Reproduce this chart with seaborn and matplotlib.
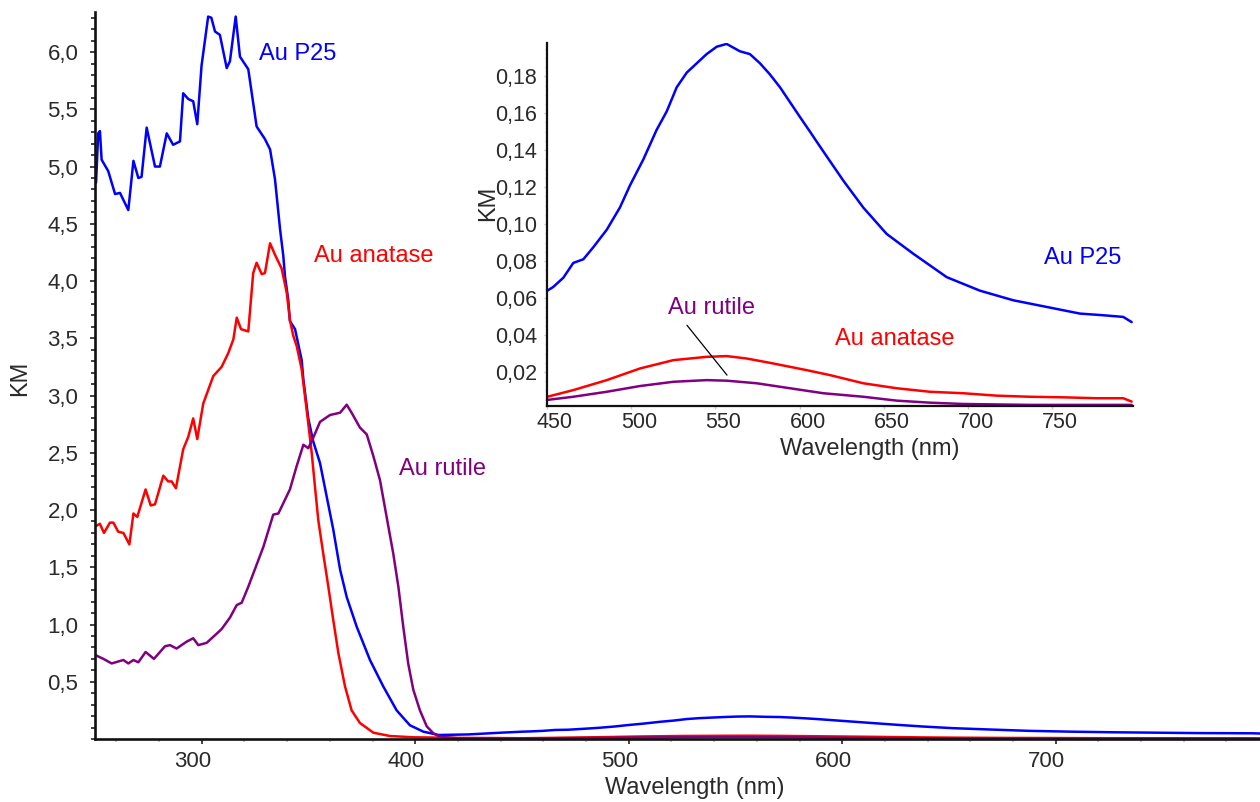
import matplotlib
matplotlib.use("Agg")
import matplotlib.pyplot as plt
import matplotlib.transforms as mtransforms
from matplotlib.ticker import FuncFormatter, MultipleLocator
import numpy as np
import seaborn as sns

# UV part of the KM spectra
wl_p25_uv = [250.5, 251.5, 252.3, 253.1, 256.2, 259.4, 261.7, 265.6, 268.0, 270.3, 271.8, 274.2,
             278.1, 280.4, 283.6, 286.6, 289.8, 291.3, 293.7, 296.0, 297.9, 299.9, 303.0, 304.5,
             306.2, 308.5, 311.7, 313.2, 315.9, 317.9, 321.8, 325.7, 329.6, 332.0, 334.3, 336.7,
             338.2, 339.0, 340.5, 341.3, 343.7, 346.8, 347.6, 349.9, 352.2, 355.4, 358.5, 361.6,
             364.8, 367.9, 372.6, 378.8, 385.0, 391.3, 397.5, 403.8, 411.0, 425.0, 440.0]
km_p25_uv = [4.86, 5.29, 5.31, 5.06, 4.96, 4.76, 4.77, 4.62, 5.05, 4.90, 4.91, 5.34,
             5.00, 5.00, 5.29, 5.19, 5.22, 5.64, 5.59, 5.57, 5.37, 5.88, 6.31, 6.30,
             6.18, 6.15, 5.86, 5.92, 6.31, 5.96, 5.85, 5.35, 5.24, 5.15, 4.89, 4.45,
             4.22, 4.04, 3.84, 3.65, 3.58, 3.31, 3.14, 2.80, 2.60, 2.41, 2.12, 1.83,
             1.48, 1.24, 0.98, 0.69, 0.46, 0.25, 0.12, 0.064, 0.035, 0.04, 0.055]

wl_ana_uv = [250.5, 252.3, 254.2, 257.0, 258.6, 260.9, 263.3, 266.1, 268.0, 269.8, 273.7, 276.1,
             278.1, 282.0, 284.3, 285.9, 287.9, 291.3, 293.7, 296.0, 297.9, 300.7, 305.4, 309.3,
             312.4, 314.8, 316.4, 318.4, 321.8, 324.1, 325.7, 328.1, 329.6, 332.0, 334.3, 337.4,
             339.8, 341.3, 342.9, 344.5, 346.8, 349.5, 351.5, 353.0, 354.6, 356.9, 359.3, 361.6,
             364.0, 367.1, 370.2, 374.1, 380.4, 388.2, 399.1, 420.0, 440.0]
km_ana_uv = [1.86, 1.88, 1.80, 1.89, 1.89, 1.81, 1.80, 1.70, 1.97, 1.94, 2.18, 2.04,
             2.05, 2.30, 2.25, 2.25, 2.19, 2.53, 2.64, 2.80, 2.62, 2.93, 3.17, 3.25,
             3.37, 3.49, 3.68, 3.58, 3.56, 4.07, 4.16, 4.06, 4.07, 4.33, 4.23, 4.11,
             3.90, 3.66, 3.52, 3.43, 3.23, 2.82, 2.50, 2.21, 1.91, 1.62, 1.33, 1.04,
             0.75, 0.46, 0.25, 0.14, 0.055, 0.026, 0.015, 0.01, 0.008]

wl_rut_uv = [250.5, 253.9, 257.8, 263.3, 265.6, 268.0, 270.3, 273.7, 277.6, 282.8, 285.1, 288.2,
             292.9, 296.0, 298.4, 302.3, 307.0, 309.3, 313.2, 316.4, 318.7, 321.8, 328.9, 333.5,
             335.9, 341.3, 344.4, 347.6, 349.9, 352.2, 355.4, 360.1, 364.8, 367.9, 370.2, 374.1,
             377.3, 380.4, 383.5, 386.6, 389.7, 392.1, 394.4, 396.7, 399.1, 402.2, 405.4, 408.5,
             411.6, 420.0, 440.0]
km_rut_uv = [0.73, 0.70, 0.66, 0.69, 0.66, 0.69, 0.67, 0.76, 0.70, 0.81, 0.82, 0.79,
             0.85, 0.88, 0.82, 0.84, 0.92, 0.96, 1.06, 1.17, 1.19, 1.33, 1.68, 1.96,
             1.97, 2.18, 2.38, 2.57, 2.54, 2.63, 2.77, 2.83, 2.85, 2.92, 2.85, 2.72,
             2.66, 2.47, 2.26, 1.94, 1.62, 1.33, 0.98, 0.66, 0.43, 0.25, 0.11, 0.05,
             0.02, 0.006, 0.005]

# visible part (plasmon band)
wl_p25_vis = [450.2, 453.7, 459.7, 465.6, 471.6, 477.5, 485.5, 493.3, 499.3, 507.2, 515.1, 521.1,
              527.0, 533.0, 538.9, 544.8, 550.8, 556.7, 564.6, 570.5, 576.5, 582.4, 588.4, 594.3,
              600.2, 606.2, 612.1, 618.1, 626.0, 637.8, 651.7, 667.5, 687.4, 707.1, 726.9, 746.7,
              766.5, 780.3, 792.2, 797.2]
km_p25_vis = [0.064, 0.066, 0.071, 0.079, 0.081, 0.0875, 0.097, 0.109, 0.121, 0.135, 0.151, 0.161,
              0.174, 0.182, 0.187, 0.192, 0.196, 0.1975, 0.1935, 0.192, 0.187, 0.181, 0.174, 0.166,
              0.158, 0.150, 0.142, 0.134, 0.1235, 0.109, 0.0947, 0.084, 0.0713, 0.064, 0.0588, 0.0552,
              0.0516, 0.0507, 0.0498, 0.047]

wl_ana_vis = [450.2, 465.6, 485.5, 505.2, 525.0, 534.9, 544.8, 556.7, 568.6, 584.4, 604.2, 618.1,
              637.8, 657.7, 677.4, 697.2, 717.0, 736.8, 756.6, 776.4, 792.2, 797.2]
km_ana_vis = [0.0066, 0.0102, 0.0156, 0.0219, 0.0264, 0.0273, 0.0282, 0.0286, 0.0273, 0.0246, 0.021, 0.0183,
              0.0139, 0.0112, 0.0093, 0.0085, 0.0072, 0.0066, 0.0063, 0.0058, 0.0058, 0.004]

wl_rut_vis = [450.2, 465.6, 485.5, 505.2, 525.0, 544.8, 556.7, 574.5, 594.3, 614.1, 637.8, 657.7,
              677.4, 697.2, 736.8, 797.2]
km_rut_vis = [0.0049, 0.0066, 0.0093, 0.0124, 0.0147, 0.0156, 0.0153, 0.0139, 0.0112, 0.0085, 0.0066, 0.0045,
              0.0034, 0.0027, 0.0022, 0.0022]

main_yticks = [0.5, 1.0, 1.5, 2.0, 2.5, 3.0, 3.5, 4.0, 4.5, 5.0, 5.5, 6.0]
main_xticks = [300, 400, 500, 600, 700]
inset_yticks = [0.02, 0.04, 0.06, 0.08, 0.10, 0.12, 0.14, 0.16, 0.18]
inset_xticks = [450, 500, 550, 600, 650, 700, 750]

BLUE = "#0000FF"
RED = "#FF0000"
PURPLE = "#800080"
TXT = "#2a2a2a"

sns.set_theme(style="white")
plt.rcParams["font.family"] = ["Liberation Sans", "DejaVu Sans"]

fig = plt.figure(figsize=(12.6, 8.02), dpi=100)

# ---- main plot
ax = fig.add_axes([95 / 1260, 1 - 739 / 802, 1165 / 1260, 727 / 802])
series = [(wl_p25_uv + wl_p25_vis, km_p25_uv + km_p25_vis, BLUE),
          (wl_ana_uv + wl_ana_vis, km_ana_uv + km_ana_vis, RED),
          (wl_rut_uv + wl_rut_vis, km_rut_uv + km_rut_vis, PURPLE)]
for wl, km, col in series:
    sns.lineplot(x=wl, y=km, ax=ax, color=col, lw=1.8, estimator=None)

ax.set_xlim(250, 795.7)
ax.set_ylim(0, 6.35)
ax.set_xticks(main_xticks)
ax.set_yticks(main_yticks)
ax.xaxis.set_minor_locator(MultipleLocator(20))
ax.yaxis.set_minor_locator(MultipleLocator(0.1))
ax.yaxis.set_major_formatter(FuncFormatter(lambda v, p: f"{v:.1f}".replace(".", ",")))
ax.tick_params(axis="both", which="both", direction="out", bottom=True, left=True,
               colors="#222222", labelsize=16, labelcolor=TXT, width=1.2)
ax.tick_params(axis="y", which="major", length=3.5, pad=8.5)
ax.tick_params(axis="y", which="minor", length=3)
ax.tick_params(axis="x", which="major", length=3.5, pad=5)
ax.tick_params(axis="x", which="minor", length=2, colors="#bbbbbb")
for s in ["top", "right"]:
    ax.spines[s].set_visible(False)
for s in ["left", "bottom"]:
    ax.spines[s].set_linewidth(1.9)
    ax.spines[s].set_color("#111111")
ax.set_xlabel("")
ax.set_ylabel("")
shift = mtransforms.ScaledTranslation(-9 / 100, 0, fig.dpi_scale_trans)
for lab in ax.get_xticklabels():
    lab.set_transform(lab.get_transform() + shift)

ax.text(345.1, 5.98, "Au P25", color=BLUE, fontsize=17, ha="center", va="center")
ax.text(380.7, 4.22, "Au anatase", color=RED, fontsize=17, ha="center", va="center")
ax.text(413.0, 2.36, "Au rutile", color=PURPLE, fontsize=17, ha="center", va="center")

fig.text(20 / 1260, 1 - 378 / 802, "KM", rotation=90, ha="center", va="center",
         fontsize=17, color=TXT)
fig.text(695 / 1260, 1 - 788 / 802, "Wavelength (nm)", ha="center", va="center",
         fontsize=17, color=TXT)

# ---- inset: plasmon band
ins = fig.add_axes([547 / 1260, 1 - 406 / 802, 586 / 1260, 363 / 802])
ins.set_facecolor("white")
for wl, km, col in [(wl_p25_vis, km_p25_vis, BLUE), (wl_ana_vis, km_ana_vis, RED),
                    (wl_rut_vis, km_rut_vis, PURPLE)]:
    sns.lineplot(x=wl, y=km, ax=ins, color=col, lw=1.8, estimator=None)

ins.set_xlim(450, 798)
ins.set_ylim(0.0016, 0.198)
ins.set_xticks(inset_xticks)
ins.set_yticks(inset_yticks)
ins.yaxis.set_minor_locator(MultipleLocator(0.005))
ins.yaxis.set_major_formatter(FuncFormatter(lambda v, p: f"{v:.2f}".replace(".", ",")))
ins.tick_params(axis="both", which="both", direction="out", bottom=True, left=True,
                colors="#c8c8c8", labelsize=15.5, labelcolor=TXT, width=1)
ins.tick_params(axis="y", which="major", length=2, pad=5)
ins.tick_params(axis="y", which="minor", length=1.5)
ins.tick_params(axis="x", which="major", length=2, pad=2.5)
for s in ["top", "right"]:
    ins.spines[s].set_visible(False)
for s in ["left", "bottom"]:
    ins.spines[s].set_linewidth(1.6)
    ins.spines[s].set_color("#111111")
ins.set_xlabel("")
ins.set_ylabel("")
shift_in = mtransforms.ScaledTranslation(8 / 100, 0, fig.dpi_scale_trans)
for lab in ins.get_xticklabels():
    lab.set_transform(lab.get_transform() + shift_in)

ins.text(768.3, 0.0819, "Au P25", color=BLUE, fontsize=17, ha="center", va="center")
ins.text(656.7, 0.0377, "Au anatase", color=RED, fontsize=17, ha="center", va="center")
ins.text(547.4, 0.0544, "Au rutile", color=PURPLE, fontsize=17, ha="center", va="center")
ins.plot([533.1, 556.9], [0.0453, 0.0183], color="black", lw=0.9)

fig.text(488 / 1260, 1 - 203 / 802, "KM", rotation=90, ha="center", va="center",
         fontsize=17, color=TXT)
fig.text(870 / 1260, 1 - 449 / 802, "Wavelength (nm)", ha="center", va="center",
         fontsize=17, color=TXT)

fig.savefig("out.png", dpi=100)
